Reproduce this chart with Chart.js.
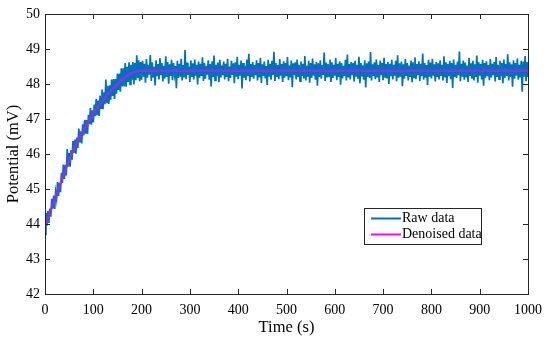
<!DOCTYPE html>
<html>
<head>
<meta charset="utf-8">
<script src="https://cdn.jsdelivr.net/npm/chart.js@4.4.1/dist/chart.umd.min.js"></script>
<style>
html,body{margin:0;padding:0;background:#fff;}
#wrap{width:550px;height:341px;}
</style>
</head>
<body>
<div id="wrap"><canvas id="c" width="550" height="341"></canvas></div>
<script>
// ---- Data ----
const rawStep = 2; // seconds between raw samples
const rawValues = [
// 0 - 198 s (rise)
43.70,44.32,43.95,44.37,44.03,44.44,44.21,44.72,44.44,44.81,
44.43,44.91,44.72,45.20,44.80,45.18,44.91,45.46,45.17,45.70,
45.29,45.69,45.39,46.14,45.64,46.03,45.64,46.11,45.84,46.37,
46.03,46.41,46.01,46.47,46.17,46.73,46.33,46.65,46.30,46.85,
46.53,46.98,46.58,46.97,46.57,47.12,46.85,47.31,46.84,47.25,
46.90,47.41,47.08,47.57,47.11,47.53,47.09,47.67,47.31,47.84,
47.28,47.76,47.42,48.13,47.45,47.95,47.43,47.96,47.55,48.13,
47.66,48.14,47.57,48.14,47.72,48.30,47.83,48.30,47.78,48.45,
47.93,48.45,47.93,48.60,47.92,48.49,48.06,48.62,47.99,48.55,
48.12,48.63,47.99,48.60,48.11,48.82,48.17,48.68,48.08,48.63,
// 200 - 1000 s (plateau)
48.12,48.66,48.21,48.58,48.04,48.71,48.18,48.55,48.27,48.83,48.09,48.62,48.19,48.49,47.96,48.68,48.22,48.57,48.13,48.74,
48.25,48.60,48.07,48.52,48.16,48.79,48.20,48.63,48.01,48.56,48.23,48.69,48.11,48.60,48.28,48.51,47.88,48.66,48.17,48.58,
48.21,48.72,48.10,48.54,48.19,48.97,48.14,48.61,48.26,48.50,48.06,48.67,48.20,48.59,48.13,48.70,48.24,48.55,47.99,48.64,
48.18,48.58,48.23,48.76,48.09,48.60,48.15,48.52,48.27,48.68,48.12,48.57,47.93,48.65,48.20,48.81,48.10,48.55,48.22,48.61,
48.05,48.69,48.19,48.53,48.25,48.64,48.13,48.58,48.20,48.72,48.08,48.50,48.17,48.66,48.26,48.59,48.02,48.62,48.21,48.78,
48.14,48.55,48.24,48.67,47.87,48.60,48.18,48.52,48.11,48.70,48.22,48.86,48.07,48.57,48.20,48.63,48.15,48.54,48.25,48.68,
48.10,48.60,48.19,48.75,48.03,48.56,48.23,48.64,48.16,48.51,47.97,48.69,48.21,48.58,48.12,48.66,48.26,48.92,48.09,48.60,
48.20,48.54,48.14,48.71,48.24,48.57,48.06,48.65,48.18,48.60,48.22,48.77,48.11,48.53,48.19,48.67,47.91,48.59,48.25,48.62,
48.13,48.70,48.20,48.55,48.08,48.64,48.23,48.58,48.16,48.80,48.10,48.52,48.21,48.66,48.04,48.60,48.18,48.73,48.24,48.56,
48.12,48.63,47.95,48.59,48.20,48.68,48.15,48.54,48.26,48.90,48.09,48.61,48.19,48.57,48.22,48.70,48.06,48.62,48.17,48.55,
48.24,48.74,48.11,48.58,48.20,48.65,47.98,48.60,48.16,48.52,48.23,48.69,48.10,48.84,48.19,48.57,48.13,48.63,48.25,48.60,
48.07,48.66,48.21,48.55,48.15,48.78,48.02,48.60,48.22,48.53,48.12,48.68,47.90,48.59,48.20,48.64,48.17,48.91,48.10,48.56,
48.23,48.62,48.14,48.70,48.19,48.54,48.06,48.67,48.25,48.60,48.11,48.75,48.20,48.57,48.16,48.63,48.00,48.58,48.22,48.69,
48.13,48.55,48.24,48.66,48.08,48.82,48.18,48.59,48.21,48.64,47.94,48.56,48.15,48.71,48.23,48.60,48.10,48.53,48.20,48.67,
48.05,48.62,48.19,48.76,48.14,48.57,48.25,48.65,48.09,48.58,48.22,48.87,48.12,48.60,48.18,48.54,47.97,48.69,48.21,48.61,
48.16,48.72,48.24,48.56,48.07,48.63,48.20,48.59,48.13,48.68,48.23,48.55,48.10,48.79,48.19,48.62,48.03,48.57,48.22,48.66,
48.14,48.60,47.89,48.70,48.20,48.55,48.17,48.64,48.25,48.93,48.08,48.58,48.21,48.67,48.12,48.61,48.19,48.53,48.06,48.74,
48.23,48.59,48.15,48.66,48.10,48.56,48.20,48.81,48.04,48.62,48.24,48.57,48.13,48.69,47.95,48.60,48.18,48.65,48.22,48.54,
48.11,48.71,48.19,48.58,48.25,48.63,48.07,48.77,48.20,48.55,48.14,48.66,48.22,48.60,48.02,48.70,48.17,48.57,48.23,48.85,
48.10,48.62,48.20,48.56,47.92,48.68,48.15,48.60,48.24,48.73,48.12,48.55,48.19,48.66,47.78,48.64,48.21,48.80,48.08,48.63,
48.20
];
const denoisedTime  = [0,10,20,30,40,50,60,70,80,90,100,110,120,130,140,150,160,170,180,190,200,300,400,500,600,700,800,900,1000];
const denoisedValue = [43.95,44.32,44.68,45.08,45.47,45.83,46.15,46.43,46.68,46.92,47.15,47.35,47.53,47.7,47.86,48.0,48.13,48.24,48.32,48.37,48.38,48.38,48.38,48.38,48.38,48.38,48.38,48.38,48.38];
const xTicks = [0,100,200,300,400,500,600,700,800,900,1000];
const yTicks = [42,43,44,45,46,47,48,49,50];
const seriesNames = ['Raw data','Denoised data'];

// ---- Build chart ----
const rawPoints = rawValues.map((v,i)=>({x:i*rawStep, y:v}));
const denPoints = denoisedTime.map((t,i)=>({x:t, y:denoisedValue[i]}));
const FONT = "'Liberation Serif','Times New Roman',serif";
const INK = '#262626';
const RAW_COLOR = '#0072BD';
const DEN_COLOR = '#FF00FF';

const framePlugin = {
  id:'frame',
  afterDatasetsDraw(chart){
    const {ctx, chartArea:{left,right,top,bottom}, scales:{x,y}} = chart;
    ctx.save();
    ctx.strokeStyle = INK; ctx.lineWidth = 1;
    ctx.strokeRect(Math.round(left)+0.5, Math.round(top)+0.5, Math.round(right-left), Math.round(bottom-top));
    ctx.beginPath();
    xTicks.forEach(v=>{
      const px = Math.round(x.getPixelForValue(v))+0.5;
      ctx.moveTo(px,bottom); ctx.lineTo(px,bottom-5);
      ctx.moveTo(px,top); ctx.lineTo(px,top+5);
    });
    yTicks.forEach(v=>{
      const py = Math.round(y.getPixelForValue(v))+0.5;
      ctx.moveTo(left,py); ctx.lineTo(left+5,py);
      ctx.moveTo(right,py); ctx.lineTo(right-5,py);
    });
    ctx.stroke();
    // legend
    const lx=364.5, ly=208.5, lw=117, lh=36;
    ctx.fillStyle='#fff'; ctx.fillRect(lx,ly,lw,lh);
    ctx.strokeStyle=INK; ctx.strokeRect(lx,ly,lw,lh);
    const rows=[{c:RAW_COLOR,y:218.5},{c:DEN_COLOR,y:234.5}];
    ctx.font = "14px "+FONT; ctx.textBaseline='middle'; ctx.textAlign='left';
    rows.forEach((r,i)=>{
      ctx.strokeStyle=r.c; ctx.lineWidth=2;
      ctx.beginPath(); ctx.moveTo(371,r.y); ctx.lineTo(401,r.y); ctx.stroke();
      ctx.fillStyle='#000'; ctx.fillText(seriesNames[i],402,r.y);
    });
    ctx.restore();
  }
};

new Chart(document.getElementById('c'),{
  type:'line',
  data:{datasets:[
    {label:seriesNames[0], data:rawPoints, borderColor:RAW_COLOR, borderWidth:1.7, pointRadius:0, tension:0, order:2},
    {label:seriesNames[1], data:denPoints, borderColor:'rgba(255,0,255,0.55)', borderWidth:2.5, pointRadius:0, tension:0, order:1}
  ]},
  options:{
    responsive:false, animation:false, devicePixelRatio:1,
    layout:{padding:{left:4,right:21,top:14,bottom:3}},
    plugins:{legend:{display:false}, tooltip:{enabled:false}},
    scales:{
      x:{type:'linear', min:0, max:1000,
        afterFit(s){s.height=44;},
        afterBuildTicks(s){s.ticks = xTicks.map(v=>({value:v}));},
        grid:{display:false, drawTicks:false}, border:{display:false},
        ticks:{font:{family:FONT,size:14}, color:'#000', padding:8, maxRotation:0, autoSkip:false, callback:v=>String(v)},
        title:{display:true, text:'Time (s)', font:{family:FONT,size:16.5}, color:'#000', padding:{top:0,bottom:0}}
      },
      y:{type:'linear', min:42, max:50,
        afterFit(s){s.width=41;},
        afterBuildTicks(s){s.ticks = yTicks.map(v=>({value:v}));},
        grid:{display:false, drawTicks:false}, border:{display:false},
        ticks:{font:{family:FONT,size:14}, color:'#000', padding:5, autoSkip:false, callback:v=>String(v)},
        title:{display:true, text:'Potential (mV)', font:{family:FONT,size:16.5}, color:'#000', padding:{top:0,bottom:0}}
      }
    }
  },
  plugins:[framePlugin]
});
</script>
</body>
</html>
